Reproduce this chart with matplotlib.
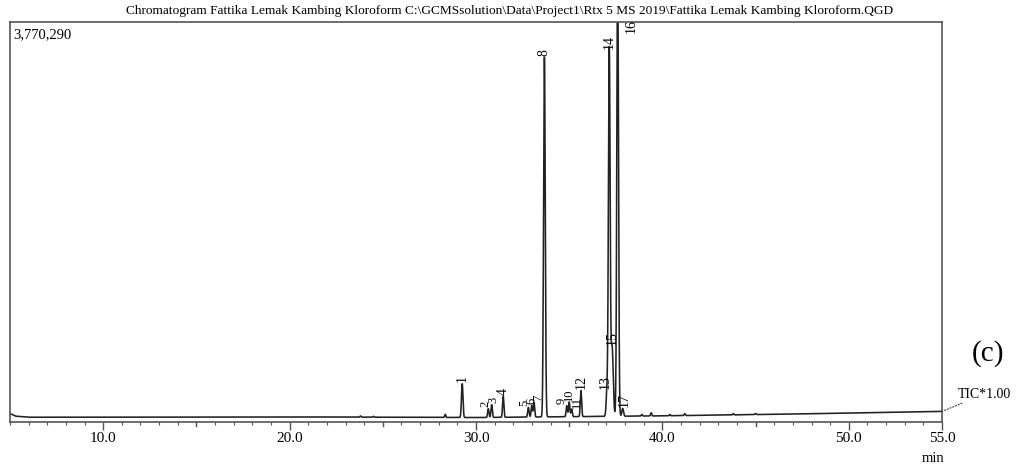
import numpy as np
import matplotlib
matplotlib.use("Agg")
import matplotlib.pyplot as plt
from matplotlib.ticker import MultipleLocator, FixedLocator

# ---------------- data ----------------
title_text = ("Chromatogram Fattika Lemak Kambing Kloroform "
              "C:\\GCMSsolution\\Data\\Project1\\Rtx 5 MS 2019\\Fattika Lemak Kambing Kloroform.QGD")
y_max = 3770290
x_min, x_max = 5.0, 55.0

peak_ids = ["1", "2", "3", "4", "5", "6", "7", "8", "9", "10", "11",
            "12", "13", "14", "15", "16", "17"]
peak_rt = [29.26, 30.66, 30.84, 31.46, 32.81, 32.99, 33.11, 33.67, 34.87,
           35.00, 35.13, 35.63, 37.03, 37.15, 37.30, 37.60, 37.87]
peak_height = [318000, 82000, 120000, 198000, 91000, 110000, 141000, 3390000,
               104000, 139000, 73000, 245000, 242000, 3450000, 660000,
               4300000, 73000]
peak_sigma = [0.04, 0.035, 0.035, 0.035, 0.035, 0.035, 0.035, 0.045, 0.035,
              0.035, 0.035, 0.035, 0.045, 0.045, 0.06, 0.045, 0.045]
# small horizontal nudges (points) so crowded labels stay readable
label_dx = [0, -2, 1.5, 0, -3, 0, 3, 0, -3.5, 0, 3.5, 0, -1, 0, 0, 0, 1]
label_size = [10, 9, 9, 10, 9, 9, 9, 10, 9, 9, 9, 10, 10, 10, 10, 10, 10]

# small unlabelled bumps
minor_rt = [23.8, 24.5, 28.35, 38.9, 39.4, 40.4, 41.2, 43.8, 45.0]
minor_height = [12000, 8000, 30000, 15000, 30000, 12000, 18000, 12000, 10000]

# baseline knots
base_rt = [5.0, 5.3, 6.0, 20.0, 30.0, 40.0, 47.0, 55.0]
base_level = [80000, 55000, 45000, 48000, 42000, 58000, 75000, 100000]

x_tick_major = [10, 20, 30, 40, 50, 55]
x_tick_labels = ["10.0", "20.0", "30.0", "40.0", "50.0", "55.0"]

# ---------------- build trace ----------------
t = np.linspace(x_min, x_max, 25001)
signal = np.interp(t, base_rt, base_level)
for rt, h, s in zip(peak_rt + minor_rt, peak_height + minor_height,
                    peak_sigma + [0.03] * len(minor_rt)):
    signal = signal + h * np.exp(-0.5 * ((t - rt) / s) ** 2)

# ---------------- figure ----------------
plt.rcParams["font.family"] = ["Liberation Serif", "DejaVu Serif"]
fig = plt.figure(figsize=(10.25, 4.65), dpi=100)
ax = fig.add_axes([10 / 1025, 1 - 422 / 465, (942 - 10) / 1025, 400 / 465])

frame_col = "#555555"
ax.plot(t, signal, color="#222222", lw=1.15)
ax.set_xlim(x_min, x_max)
ax.set_ylim(0, y_max)

for sp in ax.spines.values():
    sp.set_color(frame_col)
    sp.set_linewidth(1.2)

ax.set_yticks([])
ax.xaxis.set_major_locator(FixedLocator(x_tick_major))
ax.set_xticklabels(x_tick_labels, fontsize=11)
ax.xaxis.set_minor_locator(MultipleLocator(1))
ax.tick_params(axis="x", which="major", direction="out", length=5.5,
               width=1.0, color=frame_col, pad=1.5)
ax.tick_params(axis="x", which="minor", direction="out", length=2.3,
               width=0.8, color=frame_col)
# medium ticks at 5-min marks
for v in [15, 25, 35, 45]:
    ax.plot([v, v], [0, -0.011 * y_max], color=frame_col, lw=1.0,
            clip_on=False)

# peak labels
for pid, rt, h, dx, fs in zip(peak_ids, peak_rt, peak_height, label_dx,
                              label_size):
    if pid == "16":
        ax.annotate(pid, xy=(rt, y_max), xytext=(10, 2),
                    textcoords="offset points", rotation=90,
                    ha="center", va="top", fontsize=fs,
                    annotation_clip=False)
        continue
    base = np.interp(rt, base_rt, base_level)
    ax.annotate(pid, xy=(rt, base + h), xytext=(dx, 1),
                textcoords="offset points", rotation=90,
                ha="center", va="bottom", fontsize=fs)

# texts
fig.text(510 / 1025, 1 - 11 / 465, title_text, ha="center", va="center",
         fontsize=9.6)
ax.text(0.004, 0.985, "3,770,290", transform=ax.transAxes, ha="left",
        va="top", fontsize=10.5)
fig.text(988 / 1025, 1 - 354 / 465, "(c)", ha="center", va="center",
         fontsize=21)
ax.annotate("TIC*1.00", xy=(x_max, signal[-1]), xycoords="data",
            xytext=(958 / 1025, 1 - 394 / 465), textcoords="figure fraction",
            ha="left", va="center", fontsize=10,
            arrowprops=dict(arrowstyle="-", linestyle=":", color="#333333",
                            lw=0.8, shrinkA=0, shrinkB=0),
            annotation_clip=False)
fig.text(933 / 1025, 1 - 458 / 465, "min", ha="center", va="center",
         fontsize=10.5)

fig.savefig("out.png", dpi=100)
